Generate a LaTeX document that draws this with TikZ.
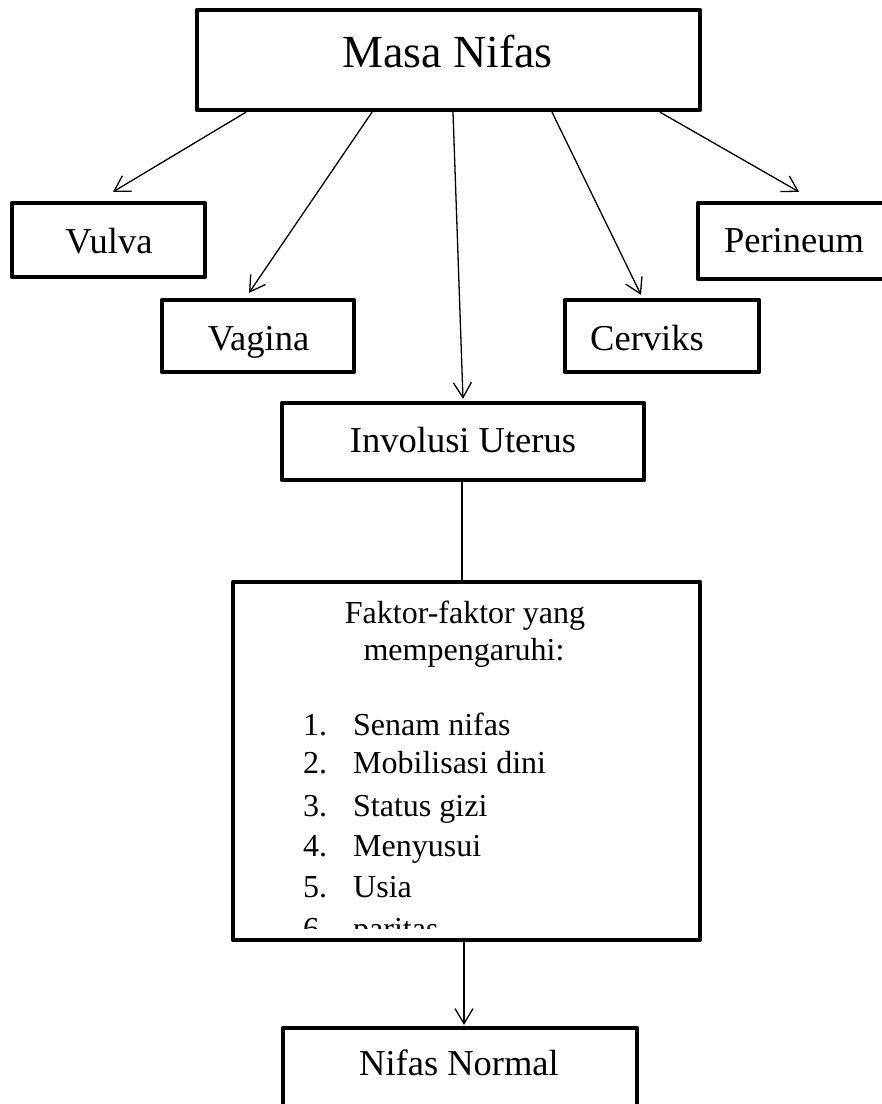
\documentclass[tikz,border=0pt]{standalone}
\usepackage{fontspec}
\setmainfont{Liberation Serif}
\usetikzlibrary{arrows.meta,calc}
\begin{document}
\begin{tikzpicture}[x=1pt,y=-1pt,
  box/.style={draw, line width=4.3pt, rectangle, inner sep=0pt, line join=round},
  conn/.style={line width=1.3pt},
  arr/.style={conn, -{Straight Barb[length=15pt,width=18pt,line width=1.3pt]}},
  txt/.style={anchor=base, inner sep=0pt, font=\fontsize{36.5}{40}\selectfont},
  big/.style={anchor=base, inner sep=0pt, font=\fontsize{46}{50}\selectfont},
  small/.style={anchor=base, inner sep=0pt, font=\fontsize{32}{36}\selectfont},
  num/.style={anchor=base west, inner sep=0pt, font=\fontsize{32}{36}\selectfont}]
\useasboundingbox (0,0) rectangle (882,1104);
% boxes
\node[box, minimum width=503pt, minimum height=100pt] (masa) at (448.5,60) {};
\node[box, minimum width=193pt, minimum height=74pt] (vulva) at (108.5,240) {};
\node[box, minimum width=202pt, minimum height=76pt] (perineum) at (799,241) {};
\node[box, minimum width=192pt, minimum height=72pt] (vagina) at (258,336) {};
\node[box, minimum width=194pt, minimum height=72pt] (cerviks) at (662,336) {};
\node[box, minimum width=362pt, minimum height=77pt] (involusi) at (463,441.5) {};
\node[box, minimum width=467pt, minimum height=358pt] (faktor) at (466.5,761) {};
\node[box, minimum width=354pt, minimum height=92pt] (nifas) at (460,1074) {};
% texts
\node[big] (masaT) at (447.5,67) {Masa Nifas};
\node[txt] (vulvaT) at (109,253) {Vulva};
\node[txt] (perT) at (794,252) {Perineum};
\node[txt] (vagT) at (258.5,350) {Vagina};
\node[txt] (cerT) at (647,350) {Cerviks};
\node[txt] (invT) at (463,452) {Involusi Uterus};
\node[txt] (nifT) at (459,1075) {Nifas Normal};
\node[small] (fk1) at (465,623) {Faktor-faktor yang};
\node[small] (fk2) at (464,660) {mempengaruhi:};
\node[num] (n1) at (303,735) {1.};
\node[num] (i1) at (353,735) {Senam nifas};
\node[num] (n2) at (303,773) {2.};
\node[num] (i2) at (353,773) {Mobilisasi dini};
\node[num] (n3) at (303,816) {3.};
\node[num] (i3) at (353,816) {Status gizi};
\node[num] (n4) at (303,856) {4.};
\node[num] (i4) at (353,856) {Menyusui};
\node[num] (n5) at (303,897) {5.};
\node[num] (i5) at (353,897) {Usia};
\begin{scope}
\clip (236,585) rectangle (697,928);
\node[num] (n6) at (303,939) {6.};
\node[num] (i6) at (353,939) {paritas};
\end{scope}
% connectors
\draw[arr] ([xshift=-202.5pt]masa.south) -- ([xshift=4.5pt,yshift=9pt]vulva.north);
\draw[arr] ([xshift=-76.5pt]masa.south) -- ([xshift=-9pt,yshift=5pt]vagina.north);
\draw[arr] ([xshift=4.5pt]masa.south) -- ([yshift=2pt]involusi.north);
\draw[arr] ([xshift=103.5pt]masa.south) -- ([xshift=-21pt,yshift=3pt]cerviks.north);
\draw[arr] ([xshift=211.5pt]masa.south) -- ([yshift=9pt]perineum.north);
\draw[conn] ([xshift=-1pt]involusi.south) -- ([xshift=-4.5pt]faktor.north);
\draw[arr] ([xshift=-2.5pt]faktor.south) -- ([xshift=4pt,yshift=1pt]nifas.north);
\end{tikzpicture}
\end{document}
